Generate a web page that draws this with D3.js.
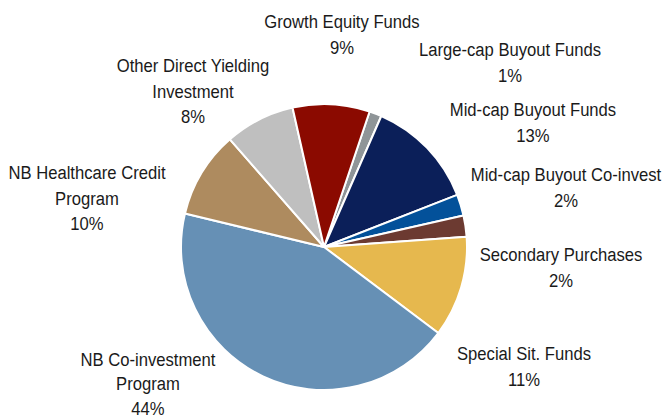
<!DOCTYPE html>
<html>
<head>
<meta charset="utf-8">
<script src="https://cdn.jsdelivr.net/npm/d3@7"></script>
<style>
  html, body { margin: 0; padding: 0; background: #fff; }
  #chart { width: 665px; height: 419px; }
</style>
</head>
<body>
<div id="chart"></div>
<script>
// slices, clockwise from the small grey one
var categories = [
  "Large-cap Buyout Funds",
  "Mid-cap Buyout Funds",
  "Mid-cap Buyout Co-invest",
  "Secondary Purchases",
  "Special Sit. Funds",
  "NB Co-investment Program",
  "NB Healthcare Credit Program",
  "Other Direct Yielding Investment",
  "Growth Equity Funds"
];
var values = [1.4, 12.5, 2.4, 2.4, 11.4, 43.5, 9.8, 7.9, 8.7];

// how each category name is broken over lines
var labelLines = [
  ["Large-cap Buyout Funds"],
  ["Mid-cap Buyout Funds"],
  ["Mid-cap Buyout Co-invest"],
  ["Secondary Purchases"],
  ["Special Sit. Funds"],
  ["NB Co-investment", "Program"],
  ["NB Healthcare Credit", "Program"],
  ["Other Direct Yielding", "Investment"],
  ["Growth Equity Funds"]
];

var colors = ["#8f9598", "#0b1f59", "#03519a", "#6c3a31", "#e6b84e",
              "#6690b5", "#ae8b5f", "#bfbfbf", "#8b0a00"];

// label block anchors (centre x, first line centre y)
var labelPos = [
  [510, 50], [533, 110], [566, 175], [561, 255], [524, 354],
  [148, 359.5], [87, 173], [193, 66], [342, 22]
];

var w = 665, h = 419;
var cx = 324, cy = 247, radius = 143;
var lineGap = 25.5;

var svg = d3.select("#chart")
  .append("svg")
  .attr("width", w)
  .attr("height", h);

var start = 18.6 * Math.PI / 180;

var pie = d3.pie()
  .sort(null)
  .startAngle(start)
  .endAngle(start + 2 * Math.PI)
  .value(function(d) { return d; });

var arc = d3.arc()
  .innerRadius(0)
  .outerRadius(radius);

var slices = svg.append("g")
  .attr("transform", "translate(" + cx + "," + cy + ")");

slices.selectAll("path")
  .data(pie(values))
  .enter()
  .append("path")
  .attr("d", arc)
  .attr("fill", function(d, i) { return colors[i]; })
  .attr("stroke", "#fff")
  .attr("stroke-width", 2)
  .attr("stroke-linejoin", "round");

// labels
var labels = svg.append("g")
  .attr("font-family", "'Liberation Sans', Arial, sans-serif")
  .attr("font-size", "18.5px")
  .attr("fill", "#1a1a1a")
  .attr("text-anchor", "middle");

categories.forEach(function(c, i) {
  var lines = labelLines[i].concat([Math.round(values[i]) + "%"]);
  // the bottom label sits right on the edge, so tighten its lines a little
  var gap = i == 5 ? 24.5 : lineGap;
  var g = labels.append("g")
    .attr("transform", "translate(" + labelPos[i][0] + "," + labelPos[i][1] + ") scale(0.9,1)");
  lines.forEach(function(t, j) {
    g.append("text")
      .attr("x", 0)
      .attr("y", j * gap)
      .attr("dy", "0.35em")
      .text(t);
  });
});
</script>
</body>
</html>
